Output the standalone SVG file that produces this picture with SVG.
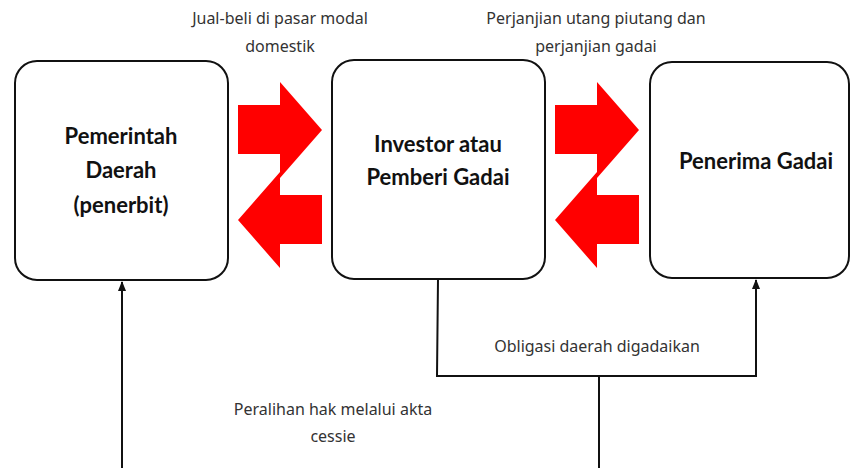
<svg xmlns="http://www.w3.org/2000/svg" width="851" height="468" viewBox="0 0 851 468">
<defs>
<style>
.box{fill:#fff;stroke:#111;stroke-width:2}
.nt{font-family:Lato,"Noto Sans",sans-serif;font-weight:bold;font-size:22px;fill:#111;text-anchor:middle}
.lb{font-family:"Noto Sans","Open Sans",sans-serif;font-size:16px;fill:#333;text-anchor:middle}
.ar{fill:#f00;stroke:none}
.ln{fill:none;stroke:#111;stroke-width:2}
</style>
<marker id="ah" viewBox="0 0 10 10" refX="9" refY="5" markerWidth="5" markerHeight="5" orient="auto" markerUnits="strokeWidth">
<path d="M0,1 L10,5 L0,9 z" fill="#111"/>
</marker>
</defs>
<rect width="851" height="468" fill="#fff"/>
<g id="node-pemerintah">
<rect class="box" x="15" y="61" width="213" height="219" rx="22"/>
<text class="nt" x="121" y="144">Pemerintah</text>
<text class="nt" x="121" y="178">Daerah</text>
<text class="nt" x="121" y="213">(penerbit)</text>
</g>
<g id="node-investor">
<rect class="box" x="332" y="60" width="213" height="219" rx="22"/>
<text class="nt" x="438" y="152">Investor atau</text>
<text class="nt" x="438" y="185">Pemberi Gadai</text>
</g>
<g id="node-penerima">
<rect class="box" x="650" y="62" width="199" height="216" rx="22"/>
<text class="nt" x="756" y="169">Penerima Gadai</text>
</g>
<g id="exchange-1">
<polygon class="ar" points="238,105 280,105 280,82 322,130 280,178 280,154 238,154"/>
<polygon class="ar" points="322,195 280,195 280,172 238,220 280,268 280,244 322,244"/>
</g>
<g id="exchange-2">
<polygon class="ar" points="555,105 597,105 597,82 639,130 597,178 597,154 555,154"/>
<polygon class="ar" points="639,195 597,195 597,172 555,220 597,268 597,244 639,244"/>
</g>
<g id="connectors">
<polyline class="ln" points="438,279 437,376 756,376 756,280" marker-end="url(#ah)"/>
<line class="ln" x1="599" y1="376" x2="599" y2="468"/>
<line class="ln" x1="122" y1="468" x2="122" y2="282" marker-end="url(#ah)"/>
</g>
<g id="labels">
<text class="lb" x="280" y="24">Jual-beli di pasar modal</text>
<text class="lb" x="280" y="52">domestik</text>
<text class="lb" x="596" y="24">Perjanjian utang piutang dan</text>
<text class="lb" x="596" y="52">perjanjian gadai</text>
<text class="lb" x="597" y="352">Obligasi daerah digadaikan</text>
<text class="lb" x="333" y="415">Peralihan hak melalui akta</text>
<text class="lb" x="333" y="442">cessie</text>
</g>
</svg>
